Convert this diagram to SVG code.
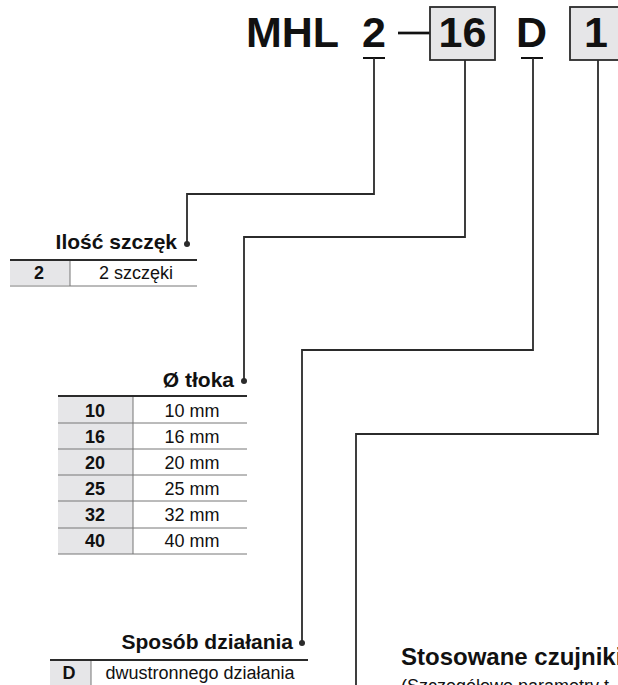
<svg xmlns="http://www.w3.org/2000/svg" width="618" height="685" viewBox="0 0 618 685">
<style>
.hd{font-family:"Liberation Sans",Arial,sans-serif;font-weight:bold;font-size:43px;fill:#111}
.lbl{font-family:"Liberation Sans",Arial,sans-serif;font-weight:bold;font-size:21px;fill:#111}
.kb{font-family:"Liberation Sans",Arial,sans-serif;font-weight:bold;font-size:18px;fill:#111;text-anchor:middle}
.kv{font-family:"Liberation Sans",Arial,sans-serif;font-size:18px;fill:#111;text-anchor:middle}
.box{fill:#e6e6e8;stroke:#2b2b2b;stroke-width:1.8}
.grey{fill:#e6e6e8}
.thick{stroke:#2b2b2b;stroke-width:2}
.thin{stroke:#777;stroke-width:1}
.conn{fill:none;stroke:#2b2b2b;stroke-width:1.8}
.dot{fill:#2b2b2b}
</style>
<rect width="618" height="685" fill="#fff"/>
<g id="header">
<text class="hd" x="246" y="47">MHL</text>
<text class="hd" x="374" y="47" text-anchor="middle">2</text>
<line x1="398" y1="33" x2="430" y2="33" stroke="#111" stroke-width="2.7"/>
<rect class="box" x="430" y="7" width="65" height="53"/>
<text class="hd" x="462.5" y="47" text-anchor="middle">16</text>
<text class="hd" x="531.5" y="47" text-anchor="middle">D</text>
<rect class="box" x="570" y="7" width="70" height="53"/>
<text class="hd" x="596" y="47" text-anchor="middle">1</text>
<line x1="363" y1="58" x2="385" y2="58" stroke="#111" stroke-width="2"/>
<line x1="521" y1="58" x2="543" y2="58" stroke="#111" stroke-width="2"/>
</g>
<g id="connectors">
<path class="conn" d="M374,58 V194 H187 V244"/>
<path class="conn" d="M465,60 V237 H244 V381"/>
<path class="conn" d="M533,58 V350 H302 V643"/>
<path class="conn" d="M598,60 V434 H356 V685"/>
<circle class="dot" cx="187" cy="244" r="3"/>
<circle class="dot" cx="244" cy="381" r="3"/>
<circle class="dot" cx="302" cy="643" r="3"/>
</g>
<g id="ilosc-szczek">
<text class="lbl" x="177" y="249" text-anchor="end">Ilość szczęk</text>
<rect class="grey" x="10" y="261" width="60" height="24"/>
<line class="thick" x1="10" y1="260" x2="197" y2="260"/>
<line class="thin" x1="70" y1="261" x2="70" y2="286"/>
<line class="thin" x1="10" y1="286" x2="197" y2="286"/>
<text class="kb" x="39" y="279">2</text>
<text class="kv" x="136" y="279">2 szczęki</text>
</g>
<g id="srednica-tloka">
<text class="lbl" x="234" y="387" text-anchor="end">Ø tłoka</text>
<rect class="grey" x="58" y="397" width="75" height="157"/>
<line class="thick" x1="58" y1="396" x2="247" y2="396"/>
<line class="thin" x1="133" y1="397" x2="133" y2="554"/>
<line class="thin" x1="58" y1="423" x2="247" y2="423"/>
<line class="thin" x1="58" y1="449" x2="247" y2="449"/>
<line class="thin" x1="58" y1="475" x2="247" y2="475"/>
<line class="thin" x1="58" y1="501" x2="247" y2="501"/>
<line class="thin" x1="58" y1="528" x2="247" y2="528"/>
<line class="thin" x1="58" y1="554" x2="247" y2="554"/>
<text class="kb" x="95" y="416.5">10</text><text class="kv" x="192" y="416.5">10 mm</text>
<text class="kb" x="95" y="442.5">16</text><text class="kv" x="192" y="442.5">16 mm</text>
<text class="kb" x="95" y="468.5">20</text><text class="kv" x="192" y="468.5">20 mm</text>
<text class="kb" x="95" y="494.5">25</text><text class="kv" x="192" y="494.5">25 mm</text>
<text class="kb" x="95" y="521">32</text><text class="kv" x="192" y="521">32 mm</text>
<text class="kb" x="95" y="547">40</text><text class="kv" x="192" y="547">40 mm</text>
</g>
<g id="sposob-dzialania">
<text class="lbl" x="293" y="649" text-anchor="end">Sposób działania</text>
<rect class="grey" x="50" y="661" width="41" height="30"/>
<line class="thick" x1="50" y1="660" x2="308" y2="660"/>
<line class="thin" x1="91" y1="661" x2="91" y2="690"/>
<text class="kb" x="69" y="679">D</text>
<text class="kv" x="200" y="679">dwustronnego działania</text>
</g>
<g id="czujniki">
<text class="lbl" x="401" y="665" style="font-size:24px">Stosowane czujniki</text>
<text class="kv" x="401" y="692" style="text-anchor:start">(Szczegółowe parametry t</text>
</g>
</svg>
